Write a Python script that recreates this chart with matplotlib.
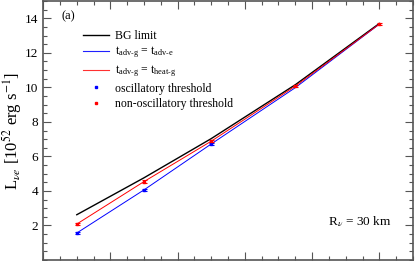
import matplotlib
matplotlib.use("Agg")
import matplotlib.pyplot as plt
from matplotlib.lines import Line2D
from matplotlib.ticker import MultipleLocator

plt.rcParams['font.family'] = ['Liberation Serif', 'DejaVu Serif']
plt.rcParams['mathtext.fontset'] = 'stix'

# accretion points (x axis has no labels in the reference)
x = [0.1, 0.3, 0.5, 0.75, 1.0]
bg_limit = [2.62, 4.76, 7.03, 10.15, 13.7]
adv_e = [1.56, 4.06, 6.72, 9.98, 13.66]
heat_g = [2.08, 4.54, 6.88, 10.07, 13.66]
osc = [1.56, 4.06, 6.72]
osc_x = [0.1, 0.3, 0.5]
nonosc = [2.08, 4.54, 6.88, 10.07, 13.66]

fig = plt.figure(figsize=(4.15, 2.61), dpi=100)
ax = fig.add_axes([0.104, 0.004, 0.891, 0.992])

ax.plot(x, bg_limit, color='black', lw=1.0)
ax.plot(x, adv_e, color='blue', lw=0.7)
ax.plot(x, heat_g, color='red', lw=0.7)
ax.errorbar(osc_x, osc, yerr=0.07, fmt='s', color='blue', ms=1.8,
            capsize=1.8, elinewidth=0.8, capthick=0.8, lw=0)
ax.errorbar(x, nonosc, yerr=0.07, fmt='s', color='red', ms=1.8,
            capsize=1.8, elinewidth=0.8, capthick=0.8, lw=0)

ax.set_xlim(0, 1.1)
ax.set_ylim(0, 15)
ax.xaxis.set_major_locator(MultipleLocator(0.2))
ax.xaxis.set_minor_locator(MultipleLocator(0.05))
ax.yaxis.set_minor_locator(MultipleLocator(0.5))
ax.set_yticks([2, 4, 6, 8, 10, 12, 14])
ax.set_xticklabels([])
ax.tick_params(which='both', direction='in', top=True, right=True, labelsize=9.5,
               color='#555555', width=0.8)
ax.tick_params(which='major', length=6)
ax.tick_params(which='minor', length=3)
for s in ax.spines.values():
    s.set_color('#555555')
    s.set_linewidth(1.2)

ax.set_ylabel(r'L$_{\nu e}$ [10$^{52}$ erg s$^{-1}$]', fontsize=12)
ax.yaxis.set_label_coords(-0.052, 0.5)

handles = [
    Line2D([], [], color='black', lw=1.0),
    Line2D([], [], color='#2020ff', lw=0.8),
    Line2D([], [], color='#ff3030', lw=0.8),
    Line2D([], [], color='blue', marker='s', ms=2, lw=0),
    Line2D([], [], color='red', marker='s', ms=2, lw=0),
]
labels = [
    'BG limit',
    r't$_\mathregular{adv\text{-}g}$ = t$_\mathregular{adv\text{-}e}$',
    r't$_\mathregular{adv\text{-}g}$ = t$_\mathregular{heat\text{-}g}$',
    'oscillatory threshold',
    'non-oscillatory threshold',
]
ax.legend(handles, labels, loc='upper left', bbox_to_anchor=(0.08, 0.93),
          frameon=False, fontsize=8.5, handlelength=2.2, labelspacing=0.28,
          handletextpad=0.5)

ax.text(0.05, 0.93, '(a)', transform=ax.transAxes, fontsize=9)
ax.text(0.77, 0.135, r'R$_\nu$ = 30 km', transform=ax.transAxes, fontsize=9.5)

fig.savefig('out.png', dpi=100)
